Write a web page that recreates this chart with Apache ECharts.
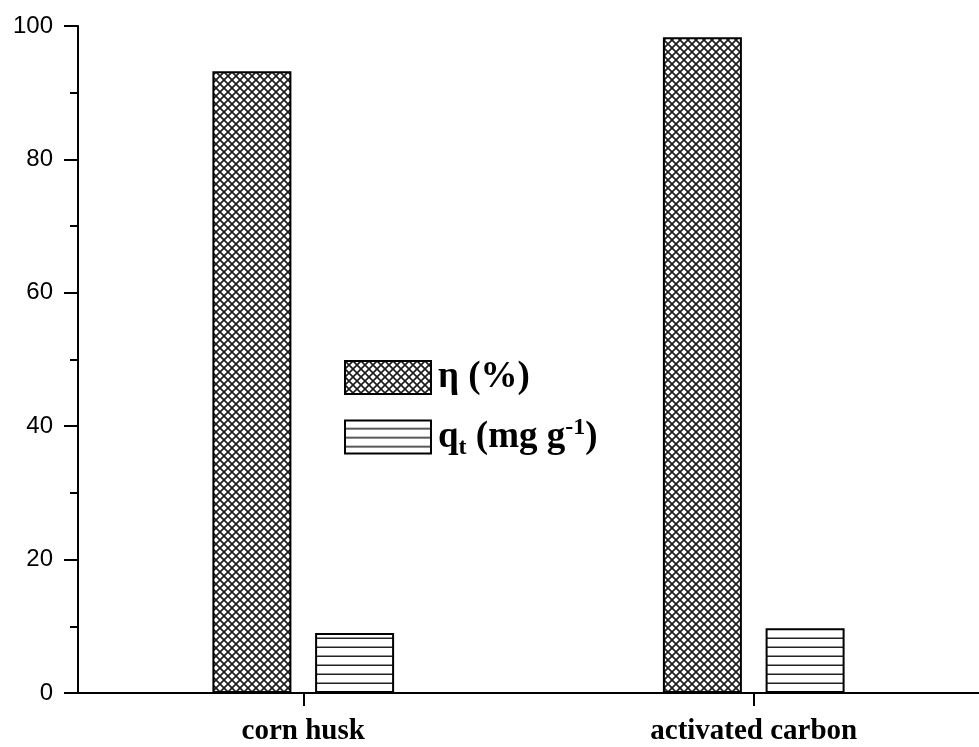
<!DOCTYPE html>
<html>
<head>
<meta charset="utf-8">
<script src="https://cdn.jsdelivr.net/npm/echarts@6/dist/echarts.min.js"></script>
<style>
html,body{margin:0;padding:0;background:#fff;}
#chart{width:979px;height:747px;}
</style>
</head>
<body>
<div id="chart"></div>
<script>
const categories = ['corn husk', 'activated carbon'];
const etaValues = [93.2, 98.3];
const qtValues = [9.0, 9.7];
const seriesNames = ['η (%)', 'qt (mg g-1)'];

function makeCross() {
  const c = document.createElement('canvas');
  c.width = 8; c.height = 8;
  const g = c.getContext('2d');
  g.fillStyle = '#fff'; g.fillRect(0, 0, 8, 8);
  g.strokeStyle = '#1e1e1e'; g.lineWidth = 1.7;
  g.beginPath();
  g.moveTo(-1, -1); g.lineTo(9, 9);
  g.moveTo(-1, 9); g.lineTo(9, -1);
  g.stroke();
  return c;
}
function makeHoriz() {
  const c = document.createElement('canvas');
  c.width = 9; c.height = 9;
  const g = c.getContext('2d');
  g.fillStyle = '#fff'; g.fillRect(0, 0, 9, 9);
  g.fillStyle = '#222'; g.fillRect(0, 7.5, 9, 1.5);
  return c;
}

const chart = echarts.init(document.getElementById('chart'), null, {renderer: 'canvas'});
const serif = '"Liberation Serif", "Times New Roman", serif';
chart.setOption({
  animation: false,
  backgroundColor: '#fff',
  grid: {left: 78, top: 26, bottom: 54, width: 910},
  legend: {
    orient: 'vertical',
    left: 344, top: 359,
    padding: 0,
    itemWidth: 86, itemHeight: 33, itemGap: 20,
    icon: 'rect',
    data: seriesNames,
    formatter: function (name) {
      if (name === seriesNames[0]) return '{b|η (%)}';
      return '{b|q}{sub|t}{b| (mg g}{sup|-1}{b|)}';
    },
    textStyle: {
      fontFamily: serif, fontWeight: 'bold', fontSize: 36, color: '#000',
      padding: [0, 0, 0, 2],
      rich: {
        b: {fontFamily: serif, fontWeight: 'bold', fontSize: 37, color: '#000'},
        sub: {fontFamily: serif, fontWeight: 'bold', fontSize: 24, color: '#000', padding: [22, 0, 0, 0]},
        sup: {fontFamily: serif, fontWeight: 'bold', fontSize: 24, color: '#000', padding: [0, 0, 18, 0]}
      }
    }
  },
  xAxis: {
    type: 'category',
    data: categories,
    axisLine: {lineStyle: {color: '#000', width: 2}},
    axisTick: {show: true, alignWithLabel: true, length: 13, lineStyle: {color: '#000', width: 2}},
    axisLabel: {fontFamily: serif, fontWeight: 'bold', fontSize: 29, color: '#000', margin: 24}
  },
  yAxis: {
    type: 'value',
    min: 0, max: 100, interval: 20,
    axisLine: {show: true, lineStyle: {color: '#000', width: 2}},
    axisTick: {show: true, length: 14, lineStyle: {color: '#000', width: 2}},
    minorTick: {show: true, splitNumber: 2, length: 8, lineStyle: {color: '#000', width: 2}},
    splitLine: {show: false},
    axisLabel: {fontFamily: '"Liberation Sans", Arial, sans-serif', fontSize: 24, color: '#000', margin: 25}
  },
  series: [
    {
      name: seriesNames[0], type: 'bar', data: etaValues,
      barWidth: 79, barGap: '30%',
      itemStyle: {color: {image: makeCross(), repeat: 'repeat'}, borderColor: '#000', borderWidth: 2}
    },
    {
      name: seriesNames[1], type: 'bar', data: qtValues,
      barWidth: 79,
      itemStyle: {color: {image: makeHoriz(), repeat: 'repeat'}, borderColor: '#000', borderWidth: 2}
    }
  ]
});
</script>
</body>
</html>
